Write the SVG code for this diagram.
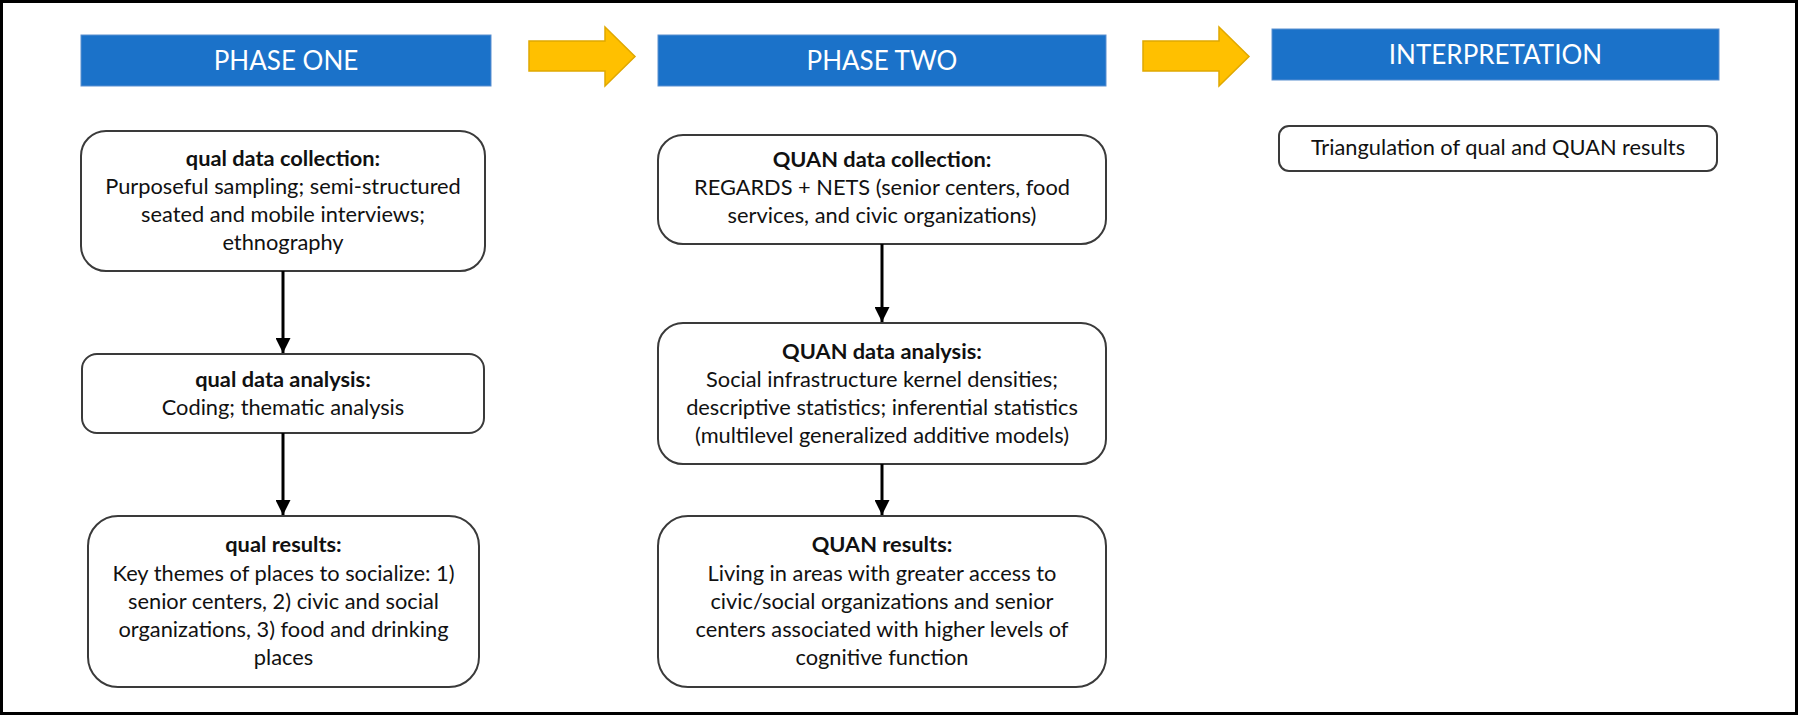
<svg xmlns="http://www.w3.org/2000/svg" width="1800" height="716" viewBox="0 0 1800 716">
<style>
.bar{fill:#1b72c9;stroke:#5b8fd0;stroke-width:1}
.bt{font-family:Lato,"Liberation Sans",sans-serif;font-size:26px;fill:#fff;text-anchor:middle}
.box{fill:#fff;stroke:#3a3a3a;stroke-width:2}
.t{font-family:Lato,"Liberation Sans",sans-serif;font-size:21.8px;fill:#111;text-anchor:middle}
.b{font-weight:bold}
.arr{fill:#ffc000;stroke:#e0a800;stroke-width:1.5}
.con{stroke:#000;stroke-width:3;fill:none}
</style>
<defs>
<marker id="ah" markerWidth="5" markerHeight="5" refX="5" refY="2.5" orient="auto" markerUnits="strokeWidth">
<path d="M0,0 L5,2.5 L0,5 Z" fill="#000"/>
</marker>
</defs>
<rect x="1.5" y="1.5" width="1795" height="712" fill="#fff" stroke="#000" stroke-width="3"/>

<g id="phase-one">
<rect class="bar" x="81" y="35" width="410" height="51"/>
<text class="bt" x="286" y="70">PHASE ONE</text>
</g>
<g id="arrow-1"><polygon class="arr" points="529,41 605,41 605,27 635,56.5 605,86 605,71 529,71"/></g>
<g id="phase-two">
<rect class="bar" x="658" y="35" width="448" height="51"/>
<text class="bt" x="882" y="70">PHASE TWO</text>
</g>
<g id="arrow-2"><polygon class="arr" points="1143,41 1219,41 1219,27 1249,56.5 1219,86 1219,71 1143,71"/></g>
<g id="interpretation">
<rect class="bar" x="1272" y="29" width="447" height="51"/>
<text class="bt" x="1495.5" y="64">INTERPRETATION</text>
</g>

<g id="qual-collection">
<rect class="box" x="81" y="131" width="404" height="140" rx="25"/>
<text class="t b" x="283" y="166">qual data collection:</text>
<text class="t" x="283" y="194">Purposeful sampling; semi-structured</text>
<text class="t" x="283" y="222">seated and mobile interviews;</text>
<text class="t" x="283" y="250">ethnography</text>
</g>
<g id="qual-analysis">
<rect class="box" x="82" y="354" width="402" height="79" rx="15"/>
<text class="t b" x="283" y="387">qual data analysis:</text>
<text class="t" x="283" y="415">Coding; thematic analysis</text>
</g>
<g id="qual-results">
<rect class="box" x="88" y="516" width="391" height="171" rx="30"/>
<text class="t b" x="283.5" y="552">qual results:</text>
<text class="t" x="283.5" y="581">Key themes of places to socialize: 1)</text>
<text class="t" x="283.5" y="609">senior centers, 2) civic and social</text>
<text class="t" x="283.5" y="637">organizations, 3) food and drinking</text>
<text class="t" x="283.5" y="665">places</text>
</g>

<g id="quan-collection">
<rect class="box" x="658" y="135" width="448" height="109" rx="25"/>
<text class="t b" x="882" y="167">QUAN data collection:</text>
<text class="t" x="882" y="195">REGARDS + NETS (senior centers, food</text>
<text class="t" x="882" y="223">services, and civic organizations)</text>
</g>
<g id="quan-analysis">
<rect class="box" x="658" y="323" width="448" height="141" rx="25"/>
<text class="t b" x="882" y="359">QUAN data analysis:</text>
<text class="t" x="882" y="387">Social infrastructure kernel densities;</text>
<text class="t" x="882" y="415">descriptive statistics; inferential statistics</text>
<text class="t" x="882" y="443">(multilevel generalized additive models)</text>
</g>
<g id="quan-results">
<rect class="box" x="658" y="516" width="448" height="171" rx="30"/>
<text class="t b" x="882" y="552">QUAN results:</text>
<text class="t" x="882" y="581">Living in areas with greater access to</text>
<text class="t" x="882" y="609">civic/social organizations and senior</text>
<text class="t" x="882" y="637">centers associated with higher levels of</text>
<text class="t" x="882" y="665">cognitive function</text>
</g>

<g id="triangulation">
<rect class="box" x="1279" y="126" width="438" height="45" rx="10"/>
<text class="t" x="1498" y="155">Triangulation of qual and QUAN results</text>
</g>

<g id="connectors">
<line class="con" x1="283" y1="271" x2="283" y2="353" marker-end="url(#ah)"/>
<line class="con" x1="283" y1="433" x2="283" y2="515" marker-end="url(#ah)"/>
<line class="con" x1="882" y1="244" x2="882" y2="322" marker-end="url(#ah)"/>
<line class="con" x1="882" y1="464" x2="882" y2="515" marker-end="url(#ah)"/>
</g>
</svg>
